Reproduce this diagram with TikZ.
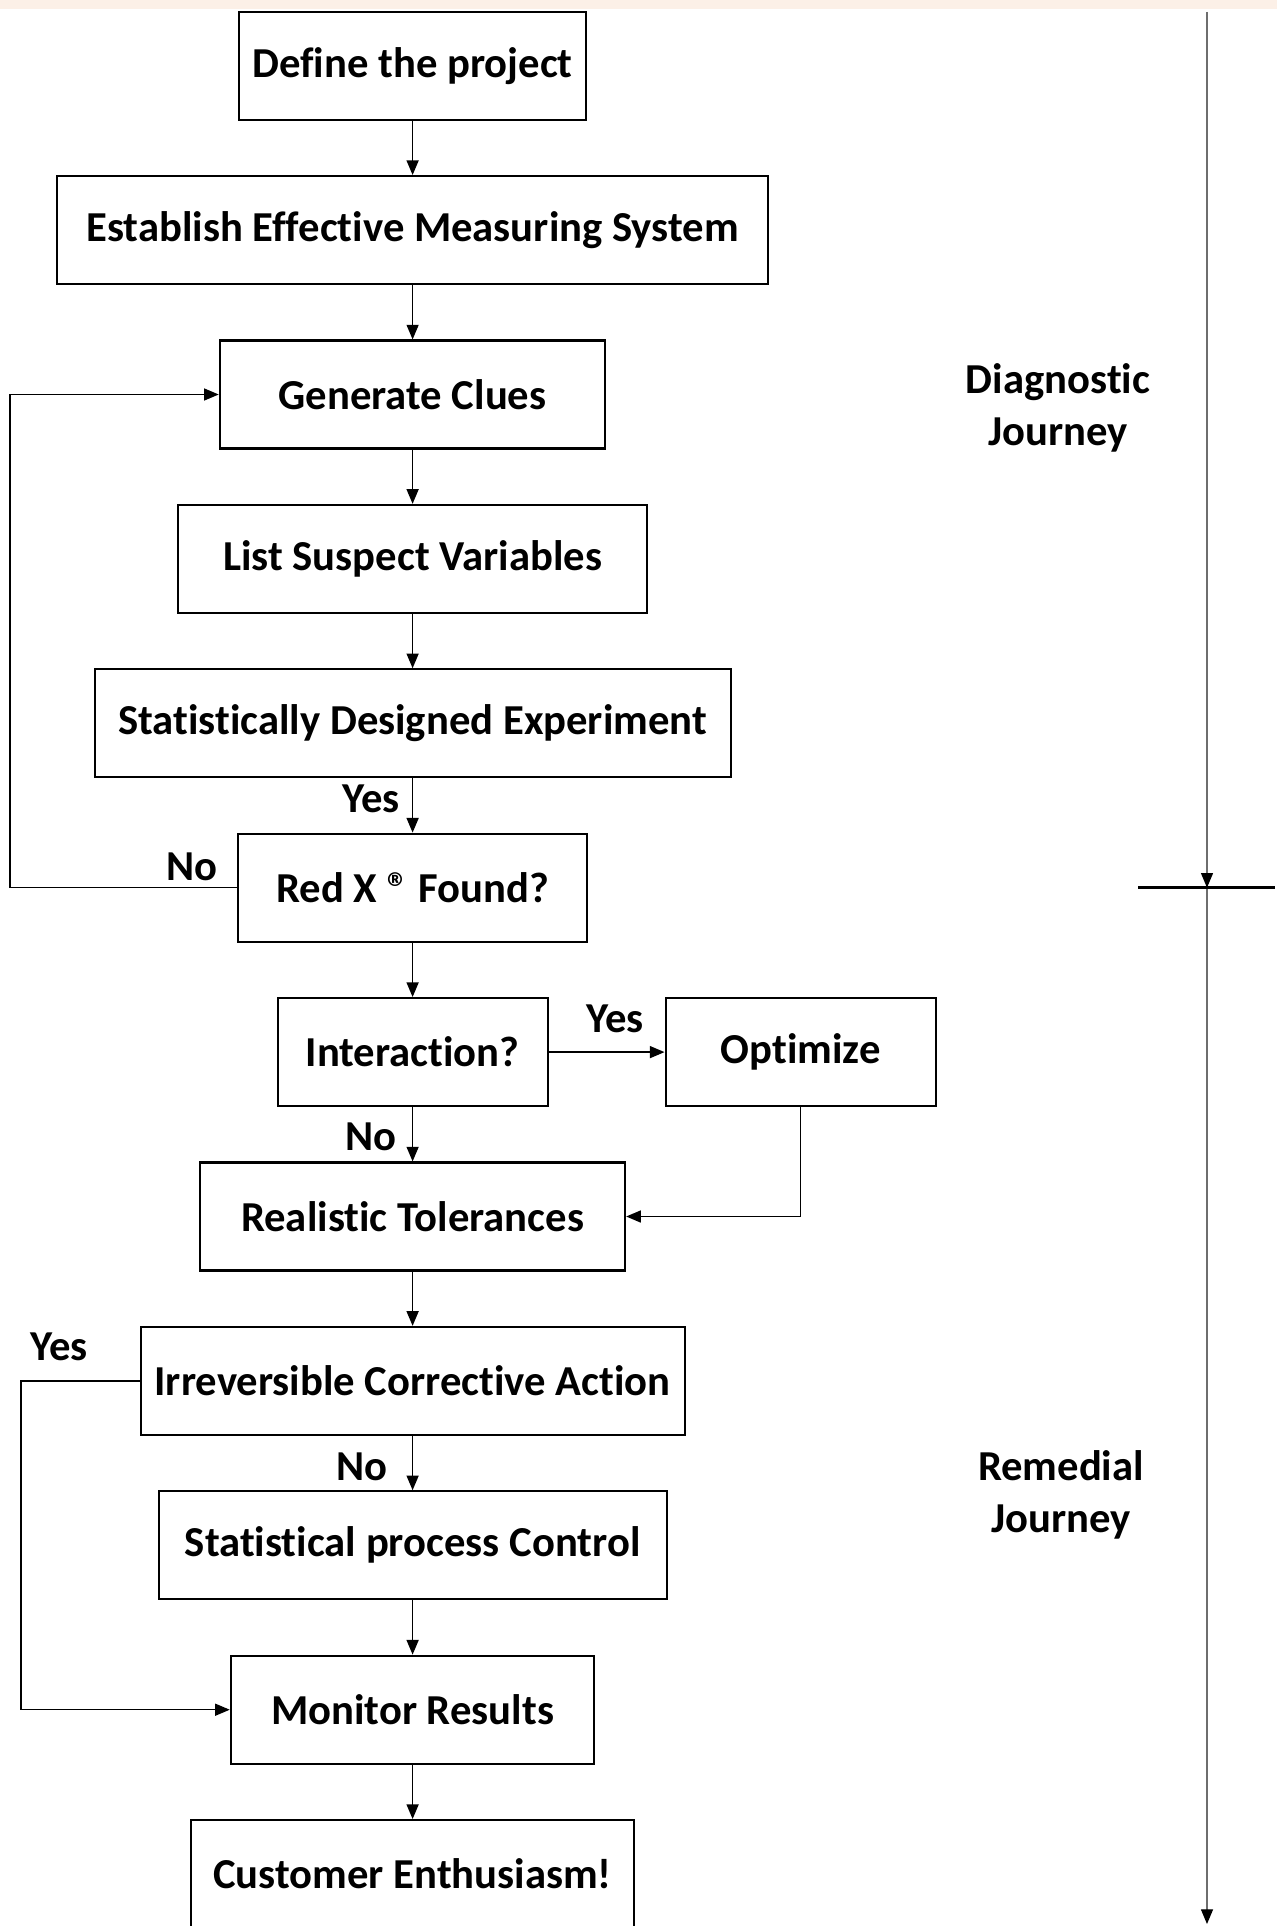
\documentclass[tikz,border=0pt]{standalone}
\usepackage{fontspec}
\setmainfont{Carlito}[Ligatures={NoCommon,NoContextual}]
\usepackage{tikz}
\usetikzlibrary{positioning,arrows.meta}
\definecolor{band}{RGB}{252,240,231}
\definecolor{axisgray}{RGB}{110,110,110}

\begin{document}
\begin{tikzpicture}[
  x=0.75pt, y=-0.75pt,
  font=\fontsize{32}{38.7}\selectfont\bfseries,
  box/.style={draw=black,line width=1.6pt,fill=white,minimum height=108*0.75pt,
              inner sep=0pt,align=center},
  lbl/.style={inner sep=0pt},
  arr/.style={draw=black,line width=1.1pt,-{Triangle[length=11pt,width=9pt]}},
  axisln/.style={draw=axisgray,line width=0.9pt,-{Triangle[length=11pt,width=9pt,color=black]}},
  tickln/.style={draw=black,line width=2.4pt}
]
\useasboundingbox (0,0) rectangle (1277,1926);
\fill[band] (0,0) rectangle (1277,9);
\def\rowsep{164.4}
\def\cx{412.6}
% main column
\node[box,minimum width=347.5*0.75pt] (define)   at (\cx,65.7)             {Define the project};
\node[box,minimum width=711*0.75pt]   (measure)  at (\cx,65.7+1*\rowsep)   {Establish Effective Measuring System};
\node[box,minimum width=385.6*0.75pt] (clues)    at (\cx,65.7+2*\rowsep)   {Generate Clues};
\node[box,minimum width=469*0.75pt]   (suspects) at (\cx,65.7+3*\rowsep)   {List Suspect Variables};
\node[box,minimum width=636*0.75pt]   (doe)      at (\cx,65.7+4*\rowsep)   {Statistically Designed Experiment};
\node[box,minimum width=348.7*0.75pt] (redx)     at (\cx,65.7+5*\rowsep)   {Red X ® Found?};
\node[box,minimum width=270*0.75pt]   (inter)    at (\cx,65.7+6*\rowsep)   {Interaction?};
\node[box,minimum width=270*0.75pt]   (optim)    at (800.6,65.7+6*\rowsep) {Optimize};
\node[box,minimum width=425*0.75pt]   (toler)    at (\cx,65.7+7*\rowsep)   {Realistic Tolerances};
\node[box,minimum width=544*0.75pt]   (irrev)    at (\cx,65.7+8*\rowsep)   {Irreversible Corrective Action};
\node[box,minimum width=508*0.75pt]   (spc)      at (\cx,65.7+9*\rowsep)   {Statistical process Control};
\node[box,minimum width=363.5*0.75pt] (monitor)  at (\cx,65.7+10*\rowsep)  {Monitor Results};
\node[box,minimum width=443*0.75pt]   (cust)     at (\cx,65.7+11*\rowsep)  {Customer Enthusiasm!};

% straight drops
\foreach \p/\c in {define/measure, measure/clues, clues/suspects, suspects/doe, doe/redx,
                   redx/inter, inter/toler, toler/irrev, irrev/spc, spc/monitor, monitor/cust}
  { \draw[arr] (\p.south) -- (\c.north); }
\draw[arr] (inter.east) -- (optim.west);
\draw[arr] (optim.south) |- (toler.east);

% loops on the left
\coordinate (noloop)  at (10,0);
\coordinate (yesloop) at (21,0);
\draw[arr] (redx.west) -- (redx.west -| noloop) |- (clues.west);
\draw[arr] (irrev.west) -- (irrev.west -| yesloop) |- (monitor.west);

% branch labels
\node[lbl,anchor=base east] (yes1) at (400,812) {Yes};
\node[lbl,anchor=base east] (no1)  at (218,880) {No};
\node[lbl,anchor=base]      (yes2) at (615,1032) {Yes};
\node[lbl,anchor=base east] (no2)  at (397,1150) {No};
\node[lbl,anchor=base]      (yes3) at (59,1360) {Yes};
\node[lbl,anchor=base east] (no3)  at (388,1480) {No};

% journey axis
\coordinate (axtop) at (1207,12);
\coordinate (axmid) at (1207,65.7+5*\rowsep);
\coordinate (axbot) at (1207,1924);
\coordinate (tickl) at (1138,65.7+5*\rowsep);
\coordinate (tickr) at (1275,65.7+5*\rowsep);
\draw[axisln] (axtop) -- (axmid);
\draw[axisln] (axmid) -- (axbot);
\draw[tickln] (tickl) -- (tickr);
\node[lbl,align=center] (diag) at (1058,408)  {Diagnostic\\Journey};
\node[lbl,align=center] (remed) at (1061,1495) {Remedial\\Journey};
\end{tikzpicture}
\end{document}
